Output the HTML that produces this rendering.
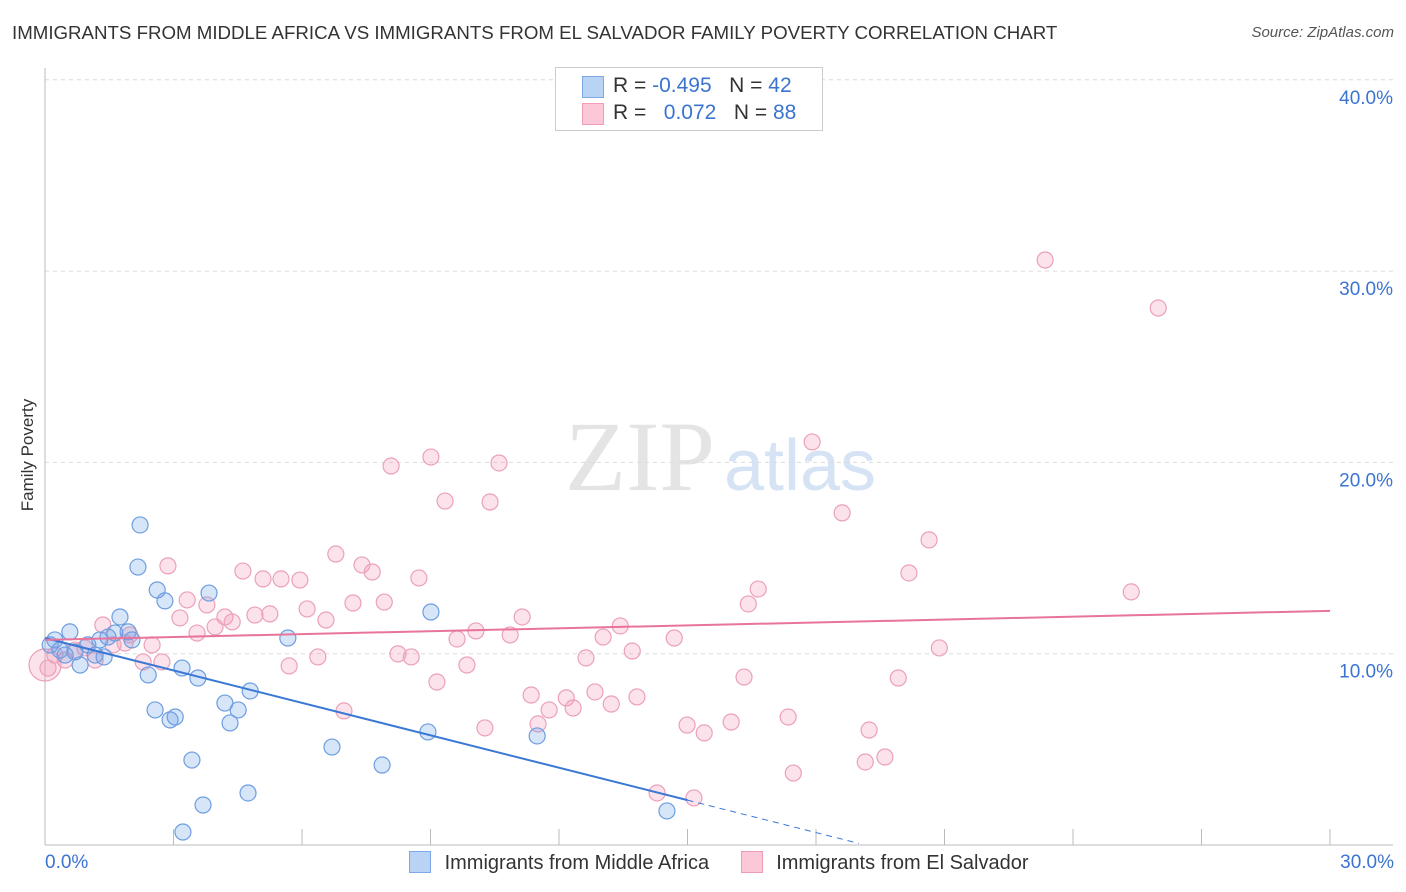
<!DOCTYPE html>
<html><head><meta charset="utf-8"><style>
body{margin:0;background:#fff;font-family:"Liberation Sans",sans-serif;}
#wrap{position:relative;width:1406px;height:892px;overflow:hidden;}
.t{position:absolute;white-space:nowrap;}
</style></head><body>
<div id="wrap">
<div class="t" style="left:12px;top:22px;font-size:18.7px;color:#333;">IMMIGRANTS FROM MIDDLE AFRICA VS IMMIGRANTS FROM EL SALVADOR FAMILY POVERTY CORRELATION CHART</div>
<div class="t" style="right:12px;top:24px;font-size:15px;color:#555;font-style:italic;">Source: ZipAtlas.com</div>
<div class="t" style="left:-28px;top:445px;font-size:17px;color:#333;transform:rotate(-90deg);">Family Poverty</div>
<svg id="svg" width="1406" height="892" style="position:absolute;left:0;top:0;">
<text x="640" y="490" font-size="100" fill="#e4e4e4" font-family="Liberation Serif" text-anchor="middle">ZIP</text>
<text x="800" y="490" font-size="72" fill="#d5e3f5" font-family="Liberation Sans" text-anchor="middle">atlas</text>
</svg>
<div style="position:absolute;left:555px;top:67px;width:266px;height:62px;border:1px solid #ccc;background:#fff;font-size:21px;color:#333;">
 <div style="position:absolute;left:26px;top:8px;width:20px;height:20px;background:#b9d3f5;border:1px solid #7fa8e6;"></div>
 <div class="t" style="left:57px;top:6px;">R = <span style="color:#3a74d0">-0.495</span>&nbsp;&nbsp; N = <span style="color:#3a74d0">42</span></div>
 <div style="position:absolute;left:26px;top:35px;width:20px;height:20px;background:#fcc8d7;border:1px solid #ef9cb6;"></div>
 <div class="t" style="left:57px;top:33px;">R = &nbsp; <span style="color:#3a74d0">0.072</span>&nbsp;&nbsp; N = <span style="color:#3a74d0">88</span></div>
</div>
<div class="t" style="left:45px;top:852px;font-size:19px;color:#3a74d0;">0.0%</div>
<div class="t" style="right:12px;top:852px;font-size:19px;color:#3a74d0;">30.0%</div>
<div style="position:absolute;left:409px;top:851px;font-size:20px;color:#333;">
 <span style="display:inline-block;width:20px;height:20px;background:#b9d3f5;border:1px solid #7fa8e6;vertical-align:-4px;"></span>
 <span style="margin-left:8px;">Immigrants from Middle Africa</span>
 <span style="display:inline-block;width:20px;height:20px;background:#fcc8d7;border:1px solid #ef9cb6;vertical-align:-4px;margin-left:26px;"></span>
 <span style="margin-left:8px;">Immigrants from El Salvador</span>
</div>
</div>
<script>
const blueX=[0.23,0.58,0.35,0.47,0.82,1.00,1.17,1.28,1.47,1.75,1.94,2.03,2.22,2.17,2.62,2.80,2.41,2.57,2.92,3.04,3.20,3.57,3.43,3.69,3.22,3.83,4.20,4.32,4.51,4.79,4.74,5.67,6.70,7.87,9.01,8.94,11.49,14.52,1.38,0.12,0.70,1.63];
const blueY=[10.72,11.14,10.19,9.93,9.41,10.46,9.93,10.72,10.87,11.92,11.14,10.72,16.73,14.53,13.33,12.76,8.89,7.06,6.54,6.69,9.25,8.73,4.44,2.09,0.68,13.17,7.42,6.38,7.06,8.05,2.72,10.82,5.12,4.18,12.18,5.91,5.70,1.78,9.83,10.46,10.09,11.08];
const pinkX=[0,0.23,0.47,0.70,0.93,1.17,1.35,1.59,1.87,1.98,2.29,2.50,2.73,2.87,3.15,3.32,3.55,3.78,3.97,4.20,4.37,4.62,4.90,5.09,5.25,5.51,5.70,5.95,6.12,6.37,6.56,6.98,6.79,7.19,7.40,7.64,7.92,8.08,8.24,8.55,8.73,9.01,9.15,9.34,9.62,9.85,10.06,10.27,10.39,10.60,10.86,11.14,11.35,11.51,11.77,12.17,12.33,12.63,12.84,13.03,13.22,13.43,13.71,13.82,14.29,14.69,14.99,15.15,15.39,16.02,16.32,16.42,16.65,17.35,17.47,17.91,18.61,19.15,19.24,19.61,19.92,20.17,20.64,20.88,23.35,25.36,25.99,0.07];
const pinkY=[9.41,9.93,9.67,10.19,10.30,9.67,11.50,10.46,10.56,10.98,9.57,10.46,9.57,14.59,11.87,12.81,11.08,12.55,11.40,11.92,11.66,14.32,12.02,13.91,12.08,13.91,9.36,13.85,12.34,9.83,11.76,7.01,15.21,12.65,14.64,14.27,12.70,19.81,9.99,9.83,13.96,20.28,8.52,17.98,10.77,9.41,11.19,6.12,17.93,19.97,10.98,11.92,7.84,6.33,7.06,7.69,7.16,9.78,8.00,10.87,7.37,11.45,10.14,7.74,2.72,10.82,6.27,2.46,5.86,6.43,8.78,12.60,13.38,6.69,3.76,21.07,17.36,4.34,6.01,4.60,8.73,14.22,15.95,10.30,30.58,13.23,28.07,9.25];
const yTicks=[10,20,30,40];
const yTickLabels=["10.0%","20.0%","30.0%","40.0%"];
const xTicks=[0,3,6,9,12,15,18,21,24,27,30];
const blueTrend=[10.82,-0.565]; // intercept, slope
const pinkTrend=[10.72,0.0507];
const X=v=>45+v/30*1285, Y=v=>845-v*19.13;
const svg=document.getElementById('svg'), NS='http://www.w3.org/2000/svg';
function mk(tag,attrs){const e=document.createElementNS(NS,tag);for(const k in attrs)e.setAttribute(k,attrs[k]);svg.appendChild(e);return e;}
yTicks.forEach((t,i)=>{
 const g=mk('line',{x1:45,x2:1393,y1:Y(t),y2:Y(t),stroke:'#dcdcdc','stroke-dasharray':'4,4'});
 
 
 const l=mk('text',{x:1393,y:Y(t)+24,'text-anchor':'end','font-size':19,fill:'#3a74d0','font-family':'Liberation Sans'});
 l.textContent=yTickLabels[i];
 
 
});
const ax=mk('line',{x1:45,x2:45,y1:68,y2:845,stroke:'#bbb'});


const bx=mk('line',{x1:45,x2:1393,y1:845,y2:845,stroke:'#bbb'});


xTicks.forEach(t=>{const e=mk('line',{x1:X(t),x2:X(t),y1:829,y2:845,stroke:'#bbb'});
 
 });
pinkX.forEach((x,i)=>{const c=mk('circle',{cx:X(x),cy:Y(pinkY[i]),r:i==0?16:8,fill:'rgba(245,150,180,0.28)',stroke:'#eba0b9','stroke-width':1.2});
 
 });
blueX.forEach((x,i)=>{const c=mk('circle',{cx:X(x),cy:Y(blueY[i]),r:8,fill:'rgba(110,160,235,0.28)',stroke:'#6d9de0','stroke-width':1.2});
 
 });
const bl=mk('line',{x1:X(0),y1:Y(blueTrend[0]),x2:X(15),y2:Y(blueTrend[0]+15*blueTrend[1]),stroke:'#3a78d6','stroke-width':2});


const bd=mk('line',{x1:X(15),y1:Y(blueTrend[0]+15*blueTrend[1]),x2:X(19),y2:Y(blueTrend[0]+19*blueTrend[1]),stroke:'#3a78d6','stroke-width':1,'stroke-dasharray':'6,5'});


const pl=mk('line',{x1:X(0),y1:Y(pinkTrend[0]),x2:X(30),y2:Y(pinkTrend[0]+30*pinkTrend[1]),stroke:'#e8739b','stroke-width':2});


</script>
</body></html>
